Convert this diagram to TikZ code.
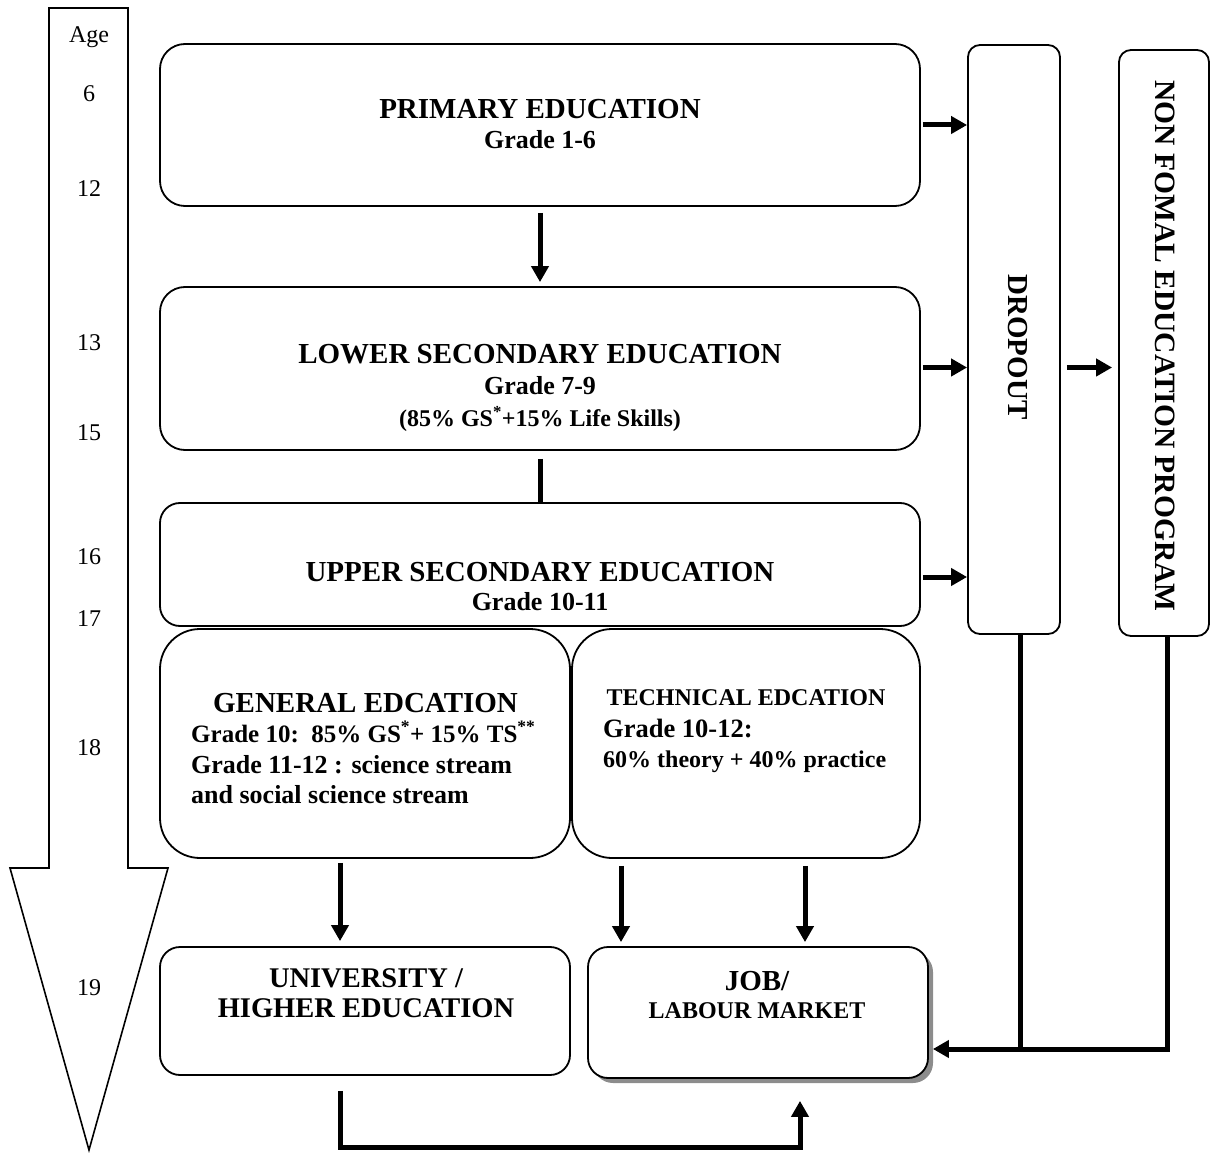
\documentclass[tikz,border=0pt]{standalone}
\usepackage{fontspec}
\setmainfont{Liberation Serif}
\usetikzlibrary{arrows.meta,calc,shadows}
\newcommand\fs[1]{\fontsize{#1}{#1}\selectfont}
\tikzset{
  box/.style={draw, line width=1.8pt, rounded corners=#1, inner sep=0pt, fill=white},
  box/.default=25pt,
  arr/.style={line width=5pt, -{Triangle[length=16pt,width=17pt]}},
  ln/.style={line width=5pt},
  lbl/.style={anchor=base, inner sep=0pt},
  lblw/.style={anchor=base west, inner sep=0pt},
  agelbl/.style={anchor=base, inner sep=0pt, font=\fs{24}},
}
\begin{document}
\begin{tikzpicture}[x=1pt,y=-1pt]
\useasboundingbox (0,0) rectangle (1211,1155);
% age arrow
\draw[line width=1.6pt, line join=miter] (49,8) -- (128,8) -- (128,868) -- (168,868) -- (89,1150) -- (10,868) -- (49,868) -- cycle;
\node[agelbl] (age) at (89,43) {Age};
\node[agelbl] (a6) at (89,102) {6};
\node[agelbl] (a12) at (89,197) {12};
\node[agelbl] (a13) at (89,351) {13};
\node[agelbl] (a15) at (89,441) {15};
\node[agelbl] (a16) at (89,565) {16};
\node[agelbl] (a17) at (89,626) {17};
\node[agelbl] (a18) at (89,755) {18};
\node[agelbl] (a19) at (89,995) {19};
% boxes
\node[box=25pt, minimum width=760pt, minimum height=162pt] (prim) at (540,125) {};
\node[box=25pt, minimum width=760pt, minimum height=163pt] (low) at (540,368.5) {};
\node[box=20pt, minimum width=760pt, minimum height=123pt] (up) at (540,564.5) {};
\node[box=40pt, minimum width=410pt, minimum height=229pt] (gen) at (365,743.5) {};
\node[box=40pt, minimum width=348pt, minimum height=229pt] (tech) at (746,743.5) {};
\node[box=12pt, minimum width=92pt, minimum height=589pt] (drop) at (1014,339.5) {};
\node[box=12pt, minimum width=90pt, minimum height=586pt] (nfe) at (1164,343) {};
\node[box=20pt, minimum width=410pt, minimum height=128pt] (univ) at (365,1011) {};
\node[box=20pt, minimum width=340pt, minimum height=131pt,
      drop shadow={shadow xshift=5pt, shadow yshift=-5pt, fill=black!45, opacity=1}] (job) at (758,1012.5) {};
% texts
\node[lbl] (tprim1) at (540,119) {\fs{29}\bfseries PRIMARY EDUCATION};
\node[lbl] (tprim2) at (540,149) {\fs{26}\bfseries Grade 1-6};
\node[lbl] (tlow1) at (540,364) {\fs{29}\bfseries LOWER SECONDARY EDUCATION};
\node[lbl] (tlow2) at (540,395) {\fs{26}\bfseries Grade 7-9};
\node[lbl] (tlow3) at (540,427) {\fs{24}\bfseries (85\% GS\textsuperscript{*}+15\% Life Skills)};
\node[lbl] (tup1) at (540,581) {\fs{29}\bfseries UPPER SECONDARY EDUCATION};
\node[lbl] (tup2) at (540,610) {\fs{26}\bfseries Grade 10-11};
\node[lbl] (tgen1) at (365.5,712) {\fs{29}\bfseries GENERAL EDCATION};
\node[lblw] (tgen2) at (191,742) {\fs{25}\bfseries Grade 10:\ \ 85\% GS\textsuperscript{*}+ 15\% TS\textsuperscript{**}};
\node[lblw] (tgen3) at (191,773) {\fs{26}\bfseries Grade 11-12 : science stream};
\node[lblw] (tgen4) at (191,803) {\fs{26}\bfseries and social science stream};
\node[lbl] (ttech1) at (746,705) {\fs{24}\bfseries TECHNICAL EDCATION};
\node[lblw] (ttech2) at (603,737) {\fs{26.5}\bfseries Grade 10-12:};
\node[lblw] (ttech3) at (603,767) {\fs{24}\bfseries 60\% theory + 40\% practice};
\node[lbl] (tuniv1) at (366,987) {\fs{28.5}\bfseries UNIVERSITY /};
\node[lbl] (tuniv2) at (366,1017) {\fs{28.5}\bfseries HIGHER EDUCATION};
\node[lbl] (tjob1) at (757,990) {\fs{29}\bfseries JOB/};
\node[lbl] (tjob2) at (757,1018) {\fs{24}\bfseries LABOUR MARKET};
\node[rotate=-90, inner sep=0pt] (tdrop) at (1018,347) {\fs{29}\bfseries DROPOUT};
\node[rotate=-90, inner sep=0pt] (tnfe) at (1165,346) {\fs{29.5}\bfseries NON FOMAL EDUCATION PROGRAM};
% connectors
\draw[arr] ($(prim.south)+(0,6)$) -- ($(low.north)+(0,-4)$);
\draw[ln] ($(low.south)+(0,8)$) -- (up.north);
\draw[arr] ($(prim.east)+(2,0)$) -- (prim.east -| drop.west);
\draw[arr] ($(low.east)+(2,-1)$) -- ($(low.east -| drop.west)+(0,-1)$);
\coordinate (u1) at ($(up.east)+(2,12.5)$);
\draw[arr] (u1) -- (u1 -| drop.west);
\coordinate (d1) at ($(drop.east |- low.east)+(6,-1)$);
\draw[arr] (d1) -- ($(d1 -| nfe.west)+(-6,0)$);
\coordinate (jr) at ($(job.east)+(4,36.5)$);
\coordinate (nb) at ($(nfe.south)+(3,0)$);
\coordinate (db) at ($(drop.south)+(6,0)$);
\draw[arr] (nb) |- (jr);
\draw[ln] (db) -- (db |- jr);
\coordinate (g1) at ($(gen.south)+(-25,4)$);
\draw[arr] (g1) -- ($(g1 |- univ.north)+(0,-5)$);
\coordinate (t1) at ($(tech.south)+(-125,7)$);
\coordinate (t2) at ($(tech.south)+(59,7)$);
\draw[arr] (t1) -- ($(t1 |- job.north)+(0,-4)$);
\draw[arr] (t2) -- ($(t2 |- job.north)+(0,-4)$);
\coordinate (b1) at ($(univ.south)+(-25,15)$);
\coordinate (b2) at ($(job.south)+(42,22)$);
\draw[arr, line join=miter] (b1) |- ($(b2)+(0,47)$) -- (b2);
\end{tikzpicture}
\end{document}
